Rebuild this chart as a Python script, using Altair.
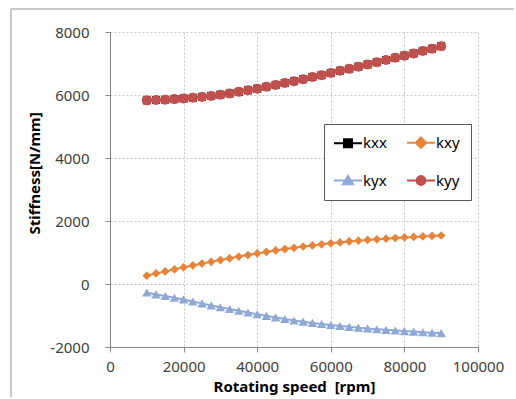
import altair as alt
import pandas as pd

# Rotating speed [rpm]
speed = [10000, 12500, 15000, 17500, 20000, 22500, 25000, 27500, 30000, 32500,
         35000, 37500, 40000, 42500, 45000, 47500, 50000, 52500, 55000, 57500,
         60000, 62500, 65000, 67500, 70000, 72500, 75000, 77500, 80000, 82500,
         85000, 87500, 90000]

# Stiffness coefficients [N/mm]
kxx = [5830, 5840, 5850, 5870, 5890, 5910, 5940, 5970, 6010, 6050,
       6100, 6150, 6200, 6260, 6320, 6380, 6440, 6500, 6570, 6630,
       6700, 6770, 6830, 6900, 6970, 7040, 7110, 7180, 7250, 7320,
       7400, 7470, 7550]
kxy = [265, 335, 400, 465, 530, 590, 650, 705, 760, 815,
       870, 920, 970, 1020, 1065, 1110, 1150, 1190, 1225, 1260,
       1290, 1320, 1350, 1375, 1400, 1420, 1440, 1460, 1480, 1495,
       1510, 1525, 1540]
kyx = [-270, -330, -380, -435, -490, -555, -615, -680, -740, -795,
       -850, -905, -960, -1010, -1060, -1110, -1160, -1195, -1235, -1270,
       -1300, -1330, -1360, -1385, -1410, -1435, -1455, -1475, -1495, -1510,
       -1530, -1545, -1560]
kyy = [5830, 5840, 5850, 5870, 5890, 5910, 5940, 5970, 6010, 6050,
       6100, 6150, 6200, 6260, 6320, 6380, 6440, 6500, 6570, 6630,
       6700, 6770, 6830, 6900, 6970, 7040, 7110, 7180, 7250, 7320,
       7400, 7470, 7550]

series_names = ["kxx", "kxy", "kyx", "kyy"]
series_colors = ["#000000", "#E8843A", "#8FA8D8", "#C0504D"]
marker_shapes = ["square", "diamond", "triangle-up", "circle"]
x_ticks = [0, 20000, 40000, 60000, 80000, 100000]
y_ticks = [-2000, 0, 2000, 4000, 6000, 8000]

# legend symbols: a short line with the marker in its middle
legend_shapes = [
    "M-3.5,0H3.5M-1,-1H1V1H-1Z",
    "M-3.5,0H3.5M0,-1.3L1.3,0L0,1.3L-1.3,0Z",
    "M-3.5,0H3.5M0,-1.15L1.25,0.95H-1.25Z",
    "M-3.5,0H3.5M-1.1,0A1.1,1.1,0,1,0,1.1,0A1.1,1.1,0,1,0,-1.1,0Z",
]

rows = []
for name, values in zip(series_names, [kxx, kxy, kyx, kyy]):
    for s, v in zip(speed, values):
        rows.append({"speed": s, "stiffness": v, "series": name})
df = pd.DataFrame(rows)

FONT = "Noto Sans"
W, H = 368, 315

# plain hyphen for negative tick labels
plain_label = "datum.value < 0 ? '-' + abs(datum.value) : '' + datum.value"

x_enc = alt.X("speed:Q",
              scale=alt.Scale(domain=[0, 100000], nice=False),
              axis=alt.Axis(values=x_ticks, labelExpr=plain_label,
                            title="Rotating speed\u00a0 [rpm]",
                            titleY=39, titleBaseline="middle"))
y_enc = alt.Y("stiffness:Q",
              scale=alt.Scale(domain=[-2000, 8000], nice=False),
              axis=alt.Axis(values=y_ticks, labelExpr=plain_label,
                            title="Stiffness[N/mm]",
                            titleX=-76, titleY=141, titleAngle=-90,
                            titleBaseline="middle", titleAlign="center"))
color_enc = alt.Color("series:N",
                      scale=alt.Scale(domain=series_names, range=series_colors),
                      legend=None)
order_enc = alt.Order("order:Q")

base = alt.Chart(df).transform_calculate(
    order="indexof(['kxx','kxy','kyx','kyy'], datum.series)"
)

lines = base.mark_line(strokeWidth=2).encode(
    x=x_enc, y=y_enc, color=color_enc, detail="series:N"
)

points = base.mark_point(filled=True, opacity=1).encode(
    x=x_enc, y=y_enc, color=color_enc,
    shape=alt.Shape("series:N",
                    scale=alt.Scale(domain=series_names, range=marker_shapes),
                    legend=None),
    size=alt.Size("series:N",
                  scale=alt.Scale(domain=series_names, range=[64, 100, 85, 72]),
                  legend=None),
    order=order_enc,
)

legend_scale_fill = alt.Scale(domain=series_names, range=series_colors)
legend_layer = base.mark_point(opacity=0).encode(
    x=x_enc, y=y_enc,
    fill=alt.Fill("series:N", scale=legend_scale_fill, legend=None),
    stroke=alt.Stroke("series:N", scale=legend_scale_fill, legend=None),
    shape=alt.Shape("series:N",
                    scale=alt.Scale(domain=series_names, range=legend_shapes),
                    legend=alt.Legend(
                        title="\u2003", titleOrient="right", titlePadding=0,
                        titleFontSize=15,
                        orient="none", legendX=214, legendY=92,
                        columns=2, direction="horizontal",
                        strokeColor="#595959", fillColor="white",
                        padding=11, rowPadding=19, columnPadding=16,
                        symbolSize=64, symbolStrokeWidth=2, symbolOffset=5.5,
                        symbolOpacity=1, symbolFillColor="#000000",
                        labelOffset=7.5, labelFontSize=15, labelFont=FONT,
                        labelColor="#000000",
                    )),
)

# light frame around the whole figure (left and top edges)
frame_left = alt.Chart(df).mark_rule(color="#c8c8c8", strokeWidth=1).encode(
    x=alt.value(-99), y=alt.value(-23), y2=alt.value(365)
)
frame_top = alt.Chart(df).mark_rule(color="#c8c8c8", strokeWidth=1).encode(
    x=alt.value(-99), x2=alt.value(404), y=alt.value(-23)
)

chart = alt.layer(
    frame_left, frame_top, lines, points, legend_layer
).resolve_scale(
    shape="independent", color="independent", fill="independent",
    stroke="independent", size="independent"
).properties(
    width=W, height=H,
    padding={"left": 10, "top": 8, "right": 0, "bottom": 0},
    background="white",
).configure_view(
    stroke=None
).configure_axis(
    labelFont=FONT, labelFontSize=15, labelColor="#404040", labelFlush=False,
    titleFont=FONT, titleFontSize=15, titleFontWeight="bold", titleColor="#000000",
    domainColor="#868686", tickColor="#868686", tickSize=5,
    gridColor="#c4c4c4", gridDash=[2, 2], gridWidth=1,
).configure_axisX(
    labelPadding=7
).configure_axisY(
    labelPadding=16
)

chart.save("out.html", embed_options={"renderer": "svg", "actions": False})
